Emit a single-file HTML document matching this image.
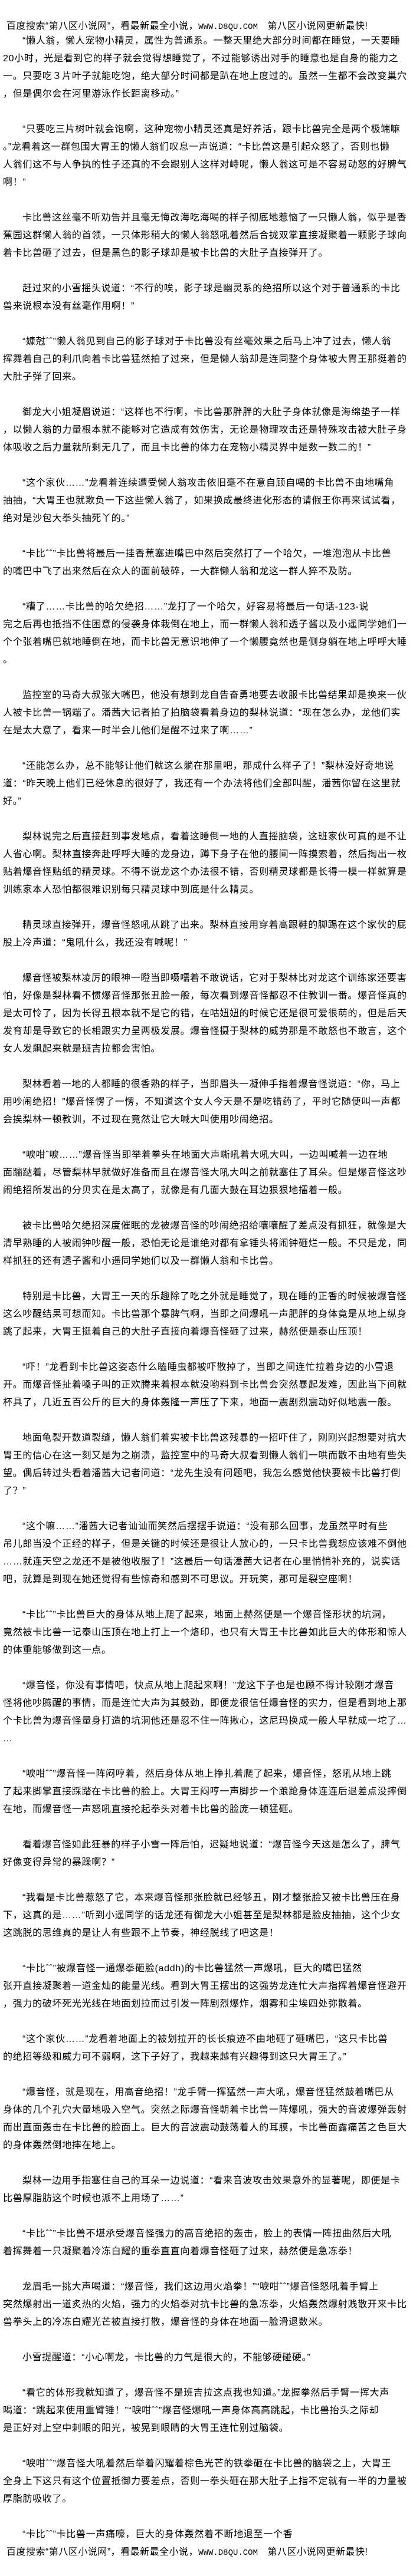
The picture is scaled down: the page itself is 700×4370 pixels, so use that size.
<!DOCTYPE html>
<html><head><meta charset="utf-8">
<style>
html,body{margin:0;padding:0;background:#fff;}
body{width:700px;height:4370px;overflow:hidden;position:relative;color:#000;
font-family:"Liberation Sans","Noto Sans CJK SC",sans-serif;font-size:16px;letter-spacing:0.7px;}
.hd{position:absolute;left:11px;height:30px;line-height:30px;white-space:nowrap;font-size:16px;letter-spacing:0.5px;}
.hd .u{font-family:"Liberation Mono",monospace;font-size:14px;letter-spacing:0;}
#body{position:absolute;left:5px;top:55px;width:695px;line-height:30px;white-space:nowrap;}
#body p{margin:0 0 30px 0;text-indent:33px;}
#body p.last{margin-bottom:0;}
</style></head><body>
<div class="hd" style="top:30px">百度搜索“第八区小说网”，看最新最全小说，<span class="u">WWW.D8QU.COM</span>　第八区小说网更新最快!</div>
<div id="body">
<p>“懒人翁，懒人宠物小精灵，属性为普通系。一整天里绝大部分时间都在睡觉，一天要睡<br>20小时，光是看到它的样子就会觉得想睡觉了，不过能够诱出对手的睡意也是自身的能力之<br>一。只要吃３片叶子就能吃饱，绝大部分时间都是趴在地上度过的。虽然一生都不会改变巢穴<br>，但是偶尔会在河里游泳作长距离移动。”</p>
<p>“只要吃三片树叶就会饱啊，这种宠物小精灵还真是好养活，跟卡比兽完全是两个极端嘛<br>。”龙看着这一群包围大胃王的懒人翁们叹息一声说道：“卡比兽这是引起众怒了，否则也懒<br>人翁们这不与人争执的性子还真的不会跟别人这样对峙呢，懒人翁这可是不容易动怒的好脾气<br>啊！”</p>
<p>卡比兽这丝毫不听劝告并且毫无悔改海吃海喝的样子彻底地惹恼了一只懒人翁，似乎是香<br>蕉园这群懒人翁的首领，一只体形稍大的懒人翁怒吼着然后合拢双掌直接凝聚着一颗影子球向<br>着卡比兽砸了过去，但是黑色的影子球却是被卡比兽的大肚子直接弹开了。</p>
<p>赶过来的小雪摇头说道：“不行的唉，影子球是幽灵系的绝招所以这个对于普通系的卡比<br>兽来说根本没有丝毫作用啊！”</p>
<p>“嫝尅ˆˆ”懒人翁见到自己的影子球对于卡比兽没有丝毫效果之后马上冲了过去，懒人翁<br>挥舞着自己的利爪向着卡比兽猛然拍了过来，但是懒人翁却是连同整个身体被大胃王那挺着的<br>大肚子弹了回来。</p>
<p>御龙大小姐凝眉说道：“这样也不行啊，卡比兽那胖胖的大肚子身体就像是海绵垫子一样<br>，以懒人翁的力量根本就不能够对它造成有效伤害，无论是物理攻击还是特殊攻击被大肚子身<br>体吸收之后力量就所剩无几了，而且卡比兽的体力在宠物小精灵界中是数一数二的！”</p>
<p>“这个家伙……”龙看着连续遭受懒人翁攻击依旧毫不在意自顾自喝的卡比兽不由地嘴角<br>抽抽，“大胃王也就欺负一下这些懒人翁了，如果换成最终进化形态的请假王你再来试试看，<br>绝对是沙包大拳头抽死丫的。”</p>
<p>“卡比ˆˆ”卡比兽将最后一挂香蕉塞进嘴巴中然后突然打了一个哈欠，一堆泡泡从卡比兽<br>的嘴巴中飞了出来然后在众人的面前破碎，一大群懒人翁和龙这一群人猝不及防。</p>
<p>“糟了……卡比兽的哈欠绝招……”龙打了一个哈欠，好容易将最后一句话-123-说<br>完之后再也抵挡不住困意的侵袭身体栽倒在地上，而一群懒人翁和透子酱以及小遥同学她们一<br>个个张着嘴巴就地睡倒在地，而卡比兽无意识地伸了一个懒腰竟然也是侧身躺在地上呼呼大睡<br>。</p>
<p>监控室的马奇大叔张大嘴巴，他没有想到龙自告奋勇地要去收服卡比兽结果却是换来一伙<br>人被卡比兽一锅端了。潘茜大记者拍了拍脑袋看着身边的梨林说道：“现在怎么办，龙他们实<br>在是太大意了，看来一时半会儿他们是醒不过来了啊……”</p>
<p>“还能怎么办，总不能够让他们就这么躺在那里吧，那成什么样子了！”梨林没好奇地说<br>道：“昨天晚上他们已经休息的很好了，我还有一个办法将他们全部叫醒，潘茜你留在这里就<br>好。”</p>
<p>梨林说完之后直接赶到事发地点，看着这睡倒一地的人直摇脑袋，这班家伙可真的是不让<br>人省心啊。梨林直接奔赴呼呼大睡的龙身边，蹲下身子在他的腰间一阵摸索着，然后掏出一枚<br>贴着爆音怪贴纸的精灵球。不得不说龙这个办法很不错，否则精灵球都是长得一模一样就算是<br>训练家本人恐怕都很难识别每只精灵球中到底是什么精灵。</p>
<p>精灵球直接弹开，爆音怪怒吼从跳了出来。梨林直接用穿着高跟鞋的脚踢在这个家伙的屁<br>股上冷声道：“鬼吼什么，我还没有喊呢！”</p>
<p>爆音怪被梨林凌厉的眼神一瞪当即嗫嚅着不敢说话，它对于梨林比对龙这个训练家还要害<br>怕，好像是梨林看不惯爆音怪那张丑脸一般，每次看到爆音怪都忍不住教训一番。爆音怪真的<br>是太可怜了，因为长得丑根本就不是它的错，在咕妞妞的时候它还是很可爱很萌的，但是后天<br>发育却是导致它的长相跟实力呈两极发展。爆音怪摄于梨林的威势那是不敢怒也不敢言，这个<br>女人发飙起来就是班吉拉都会害怕。</p>
<p>梨林看着一地的人都睡的很香熟的样子，当即眉头一凝伸手指着爆音怪说道：“你，马上<br>用吵闹绝招！”爆音怪愣了一愣，不知道这个女人今天是不是吃错药了，平时它随便叫一声都<br>会挨梨林一顿教训，不过现在竟然让它大喊大叫使用吵闹绝招。</p>
<p>“唳咁ˆ唳……”爆音怪当即举着拳头在地面大声嘶吼着大吼大叫，一边叫喊着一边在地<br>面蹦跶着，尽管梨林早就做好准备而且在爆音怪大吼大叫之前就塞住了耳朵。但是爆音怪这吵<br>闹绝招所发出的分贝实在是太高了，就像是有几面大鼓在耳边狠狠地擂着一般。</p>
<p>被卡比兽哈欠绝招深度催眠的龙被爆音怪的吵闹绝招给嚷嚷醒了差点没有抓狂，就像是大<br>清早熟睡的人被闹钟吵醒一般，恐怕无论是谁绝对都有拿锤头将闹钟砸烂一般。不只是龙，同<br>样抓狂的还有透子酱和小遥同学她们以及一群懒人翁和卡比兽。</p>
<p>特别是卡比兽，大胃王一天的乐趣除了吃之外就是睡觉了，现在睡的正香的时候被爆音怪<br>这么吵醒结果可想而知。卡比兽那个暴脾气啊，当即之间爆吼一声肥胖的身体竟是从地上纵身<br>跳了起来，大胃王挺着自己的大肚子直接向着爆音怪砸了过来，赫然便是泰山压顶！</p>
<p>“吓！”龙看到卡比兽这姿态什么瞌睡虫都被吓散掉了，当即之间连忙拉着身边的小雪退<br>开。而爆音怪扯着嗓子叫的正欢腾来着根本就没哟料到卡比兽会突然暴起发难，因此当下间就<br>杯具了，几近五百公斤的巨大的身体轰隆一声压了下来，地面一震剧烈震动好似地震一般。</p>
<p>地面龟裂开数道裂缝，懒人翁们着实被卡比兽这残暴的一招吓住了，刚刚兴起想要对抗大<br>胃王的信心在这一刻又是为之崩溃，监控室中的马奇大叔看到懒人翁们一哄而散不由地有些失<br>望。偶后转过头看着潘茜大记者问道：“龙先生没有问题吧，我怎么感觉他快要被卡比兽打倒<br>了？”</p>
<p>“这个嘛……”潘茜大记者讪讪而笑然后摆摆手说道：“没有那么回事，龙虽然平时有些<br>吊儿郎当没个正经的样子，但是关键的时候还是很让人放心的，一只卡比兽我想应该难不倒他<br>……就连天空之龙还不是被他收服了！”这最后一句话潘茜大记者在心里悄悄补充的，说实话<br>吧，就算是到现在她还觉得有些惊奇和感到不可思议。开玩笑，那可是裂空座啊！</p>
<p>“卡比ˆˆ”卡比兽巨大的身体从地上爬了起来，地面上赫然便是一个爆音怪形状的坑洞，<br>竟然被卡比兽一记泰山压顶在地上打上一个烙印，也只有大胃王卡比兽如此巨大的体形和惊人<br>的体重能够做到这一点。</p>
<p>“爆音怪，你没有事情吧，快点从地上爬起来啊！”龙这下子也是也顾不得计较刚才爆音<br>怪将他吵腾醒的事情，而是连忙大声为其鼓劲，即便龙很信任爆音怪的实力，但是看到地上那<br>个卡比兽为爆音怪量身打造的坑洞他还是忍不住一阵揪心，这尼玛换成一般人早就成一坨了…<br>…</p>
<p>“唳咁ˆˆ”爆音怪一阵闷哼着，然后身体从地上挣扎着爬了起来，爆音怪，怒吼从地上跳<br>了起来脚掌直接踩踏在卡比兽的脸上。大胃王闷哼一声脚步一个踉跄身体连连后退差点没摔倒<br>在地，而爆音怪一声怒吼直接抡起拳头对着卡比兽的脸庞一顿猛砸。</p>
<p>看着爆音怪如此狂暴的样子小雪一阵后怕，迟疑地说道：“爆音怪今天这是怎么了，脾气<br>好像变得异常的暴躁啊？”</p>
<p>“我看是卡比兽惹怒了它，本来爆音怪那张脸就已经够丑，刚才整张脸又被卡比兽压在身<br>下，这真的是……”听到小遥同学的话龙还有御龙大小姐甚至是梨林都是脸皮抽抽，这个少女<br>这跳脱的思维真的是让人有些跟不上节奏，神经脱线了吧这是！</p>
<p>“卡比ˆˆ”被爆音怪一通爆拳砸脸(addh)的卡比兽猛然一声爆吼，巨大的嘴巴猛然<br>张开直接凝聚着一道金灿的能量光线。看到大胃王摆出的这强势龙连忙大声指挥着爆音怪避开<br>，强力的破坏死光光线在地面划拉而过引发一阵剧烈爆炸，烟雾和尘埃四处弥散着。</p>
<p>“这个家伙……”龙看着地面上的被划拉开的长长痕迹不由地砸了砸嘴巴，“这只卡比兽<br>的绝招等级和威力可不弱啊，这下子好了，我越来越有兴趣得到这只大胃王了。”</p>
<p>“爆音怪，就是现在，用高音绝招！”龙手臂一挥猛然一声大吼，爆音怪猛然鼓着嘴巴从<br>身体的几个孔穴大量地吸入空气。突然之际爆音怪朝着卡比兽一阵爆吼，强大的音波爆弹轰射<br>而出直面轰击在卡比兽的脸面上。巨大的音波震动鼓荡着人的耳膜，卡比兽面露痛苦之色巨大<br>的身体轰然倒地摔在地上。</p>
<p>梨林一边用手指塞住自己的耳朵一边说道：“看来音波攻击效果意外的显著呢，即便是卡<br>比兽厚脂肪这个时候也派不上用场了……”</p>
<p>“卡比ˆˆ”卡比兽不堪承受爆音怪强力的高音绝招的轰击，脸上的表情一阵扭曲然后大吼<br>着挥舞着一只凝聚着冷冻白耀的重拳直直向着爆音怪砸了过来，赫然便是急冻拳！</p>
<p>龙眉毛一挑大声喝道：“爆音怪，我们这边用火焰拳！”“唳咁ˆˆ”爆音怪怒吼着手臂上<br>突然爆射出一道炙热的火焰，强力的火焰拳对抗卡比兽的急冻拳，火焰轰然爆射贱散开来卡比<br>兽拳头上的冷冻白耀光芒被直接打散，爆音怪的身体在地面一脸滑退数米。</p>
<p>小雪提醒道：“小心啊龙，卡比兽的力气是很大的，不能够硬碰硬。”</p>
<p>“看它的体形我就知道了，爆音怪不是班吉拉这点我也知道。”龙握拳然后手臂一挥大声<br>喝道：“跳起来使用重臂锤！”“唳咁ˆˆ”爆音怪爆吼一声身体高高跳起，卡比兽抬头之际却<br>是正好对上空中刺眼的阳光，被晃到眼睛的大胃王连忙别过脑袋。</p>
<p>“唳咁ˆˆ”爆音怪大吼着然后举着闪耀着棕色光芒的铁拳砸在卡比兽的脑袋之上，大胃王<br>全身上下这只有这个位置抵御力要差点，否则一拳头砸在那大肚子上指不定就有一半的力量被<br>厚脂肪吸收了。</p>
<p class="last">“卡比ˆˆ”卡比兽一声痛嚎，巨大的身体轰然着不断地退至一个香</p>
</div>
<div class="hd" style="top:4315px">百度搜索“第八区小说网”，看最新最全小说，<span class="u">WWW.D8QU.COM</span>　第八区小说网更新最快!</div>
</body></html>
